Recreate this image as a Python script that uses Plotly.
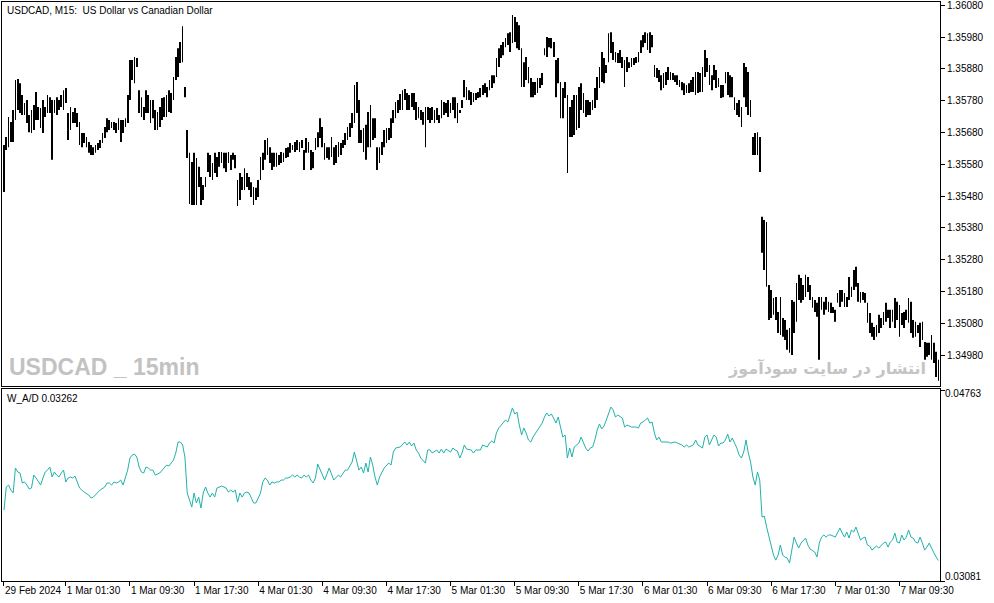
import plotly.graph_objects as go

# USDCAD M15 bars (high / low), oldest first
bar_high = [
    1.35641, 1.35666, 1.35729, 1.35713, 1.35751, 1.35845, 1.35848, 1.35835, 1.35798, 1.35773,
    1.35782, 1.35735, 1.35751, 1.35766, 1.35807, 1.35760, 1.35757, 1.35782, 1.35760, 1.35798,
    1.35791, 1.35782, 1.35782, 1.35791, 1.35782, 1.35798, 1.35813, 1.35820, 1.35741, 1.35760,
    1.35744, 1.35757, 1.35741, 1.35713, 1.35678, 1.35678, 1.35666, 1.35650, 1.35641, 1.35634,
    1.35641, 1.35647, 1.35656, 1.35678, 1.35697, 1.35725, 1.35719, 1.35713, 1.35713, 1.35710,
    1.35725, 1.35719, 1.35719, 1.35725, 1.35798, 1.35908, 1.35908, 1.35917, 1.35914, 1.35813,
    1.35791, 1.35760, 1.35813, 1.35798, 1.35782, 1.35782, 1.35751, 1.35744, 1.35760, 1.35788,
    1.35791, 1.35798, 1.35813, 1.35804, 1.35854, 1.35917, 1.35945, 1.35964, 1.36014, 1.35823,
    1.35688, 1.35616, 1.35587, 1.35616, 1.35600, 1.35572, 1.35540, 1.35515, 1.35540, 1.35616,
    1.35609, 1.35584, 1.35616, 1.35603, 1.35619, 1.35619, 1.35616, 1.35616, 1.35619, 1.35609,
    1.35616, 1.35609, 1.35531, 1.35553, 1.35540, 1.35568, 1.35553, 1.35540, 1.35524, 1.35509,
    1.35506, 1.35531, 1.35603, 1.35616, 1.35656, 1.35663, 1.35634, 1.35616, 1.35616, 1.35616,
    1.35609, 1.35619, 1.35616, 1.35631, 1.35634, 1.35647, 1.35641, 1.35650, 1.35656, 1.35650,
    1.35656, 1.35625, 1.35663, 1.35650, 1.35625, 1.35619, 1.35663, 1.35681, 1.35725, 1.35697,
    1.35647, 1.35634, 1.35634, 1.35666, 1.35634, 1.35641, 1.35650, 1.35647, 1.35656, 1.35678,
    1.35697, 1.35710, 1.35741, 1.35829, 1.35839, 1.35782, 1.35688, 1.35694, 1.35704, 1.35744,
    1.35766, 1.35725, 1.35725, 1.35634, 1.35634, 1.35650, 1.35688, 1.35694, 1.35694, 1.35725,
    1.35751, 1.35776, 1.35782, 1.35801, 1.35813, 1.35817, 1.35804, 1.35798, 1.35804, 1.35804,
    1.35776, 1.35760, 1.35751, 1.35744, 1.35760, 1.35760, 1.35757, 1.35760, 1.35751, 1.35757,
    1.35735, 1.35782, 1.35776, 1.35773, 1.35782, 1.35773, 1.35791, 1.35791, 1.35773, 1.35751,
    1.35782, 1.35845, 1.35823, 1.35813, 1.35807, 1.35804, 1.35804, 1.35807, 1.35820, 1.35829,
    1.35835, 1.35823, 1.35845, 1.35860, 1.35860, 1.35914, 1.35945, 1.35955, 1.35964, 1.35977,
    1.35992, 1.35995, 1.36049, 1.36043, 1.36027, 1.36017, 1.35945, 1.35901, 1.35917, 1.35886,
    1.35851, 1.35839, 1.35839, 1.35851, 1.35851, 1.35867, 1.35945, 1.35980, 1.35977, 1.35977,
    1.35964, 1.35908, 1.35914, 1.35839, 1.35820, 1.35839, 1.35798, 1.35760, 1.35782, 1.35798,
    1.35798, 1.35823, 1.35835, 1.35804, 1.35782, 1.35782, 1.35776, 1.35782, 1.35820, 1.35854,
    1.35886, 1.35933, 1.35914, 1.35892, 1.35992, 1.35995, 1.35964, 1.35933, 1.35930, 1.35939,
    1.35917, 1.35908, 1.35917, 1.35901, 1.35914, 1.35914, 1.35917, 1.35933, 1.35970, 1.35986,
    1.35995, 1.35992, 1.35995, 1.35986, 1.35892, 1.35883, 1.35876, 1.35860, 1.35867, 1.35870,
    1.35886, 1.35870, 1.35867, 1.35860, 1.35860, 1.35845, 1.35839, 1.35835, 1.35829, 1.35835,
    1.35845, 1.35854, 1.35870, 1.35870, 1.35867, 1.35886, 1.35939, 1.35914, 1.35892, 1.35860,
    1.35892, 1.35876, 1.35851, 1.35829, 1.35829, 1.35870, 1.35870, 1.35860, 1.35854, 1.35791,
    1.35773, 1.35782, 1.35760, 1.35898, 1.35886, 1.35870, 1.35782, 1.35666, 1.35678, 1.35681,
    1.35666, 1.35415, 1.35405, 1.35399, 1.35201, 1.35185, 1.35160, 1.35163, 1.35116, 1.35163,
    1.35097, 1.35091, 1.35060, 1.35066, 1.35154, 1.35148, 1.35207, 1.35233, 1.35223, 1.35201,
    1.35233, 1.35226, 1.35201, 1.35163, 1.35154, 1.35145, 1.35163, 1.35163, 1.35148, 1.35163,
    1.35148, 1.35145, 1.35132, 1.35123, 1.35176, 1.35185, 1.35185, 1.35176, 1.35163, 1.35226,
    1.35195, 1.35248, 1.35258, 1.35207, 1.35179, 1.35179, 1.35176, 1.35145, 1.35113, 1.35082,
    1.35069, 1.35075, 1.35107, 1.35097, 1.35116, 1.35145, 1.35123, 1.35123, 1.35123, 1.35160,
    1.35148, 1.35138, 1.35113, 1.35116, 1.35123, 1.35160, 1.35148, 1.35091, 1.35085, 1.35075,
    1.35082, 1.35085, 1.35022, 1.35019, 1.35019, 1.35044, 1.35019, 1.34991, 1.34966,
]

bar_low = [
    1.35493, 1.35625, 1.35634, 1.35650, 1.35650, 1.35719, 1.35751, 1.35741, 1.35735, 1.35735,
    1.35710, 1.35681, 1.35678, 1.35688, 1.35719, 1.35719, 1.35694, 1.35678, 1.35729, 1.35741,
    1.35741, 1.35594, 1.35741, 1.35735, 1.35751, 1.35760, 1.35751, 1.35773, 1.35656, 1.35688,
    1.35710, 1.35710, 1.35697, 1.35641, 1.35634, 1.35647, 1.35634, 1.35616, 1.35609, 1.35609,
    1.35616, 1.35625, 1.35631, 1.35647, 1.35663, 1.35681, 1.35688, 1.35694, 1.35688, 1.35678,
    1.35688, 1.35650, 1.35678, 1.35697, 1.35710, 1.35782, 1.35845, 1.35835, 1.35886, 1.35741,
    1.35729, 1.35719, 1.35741, 1.35741, 1.35710, 1.35725, 1.35688, 1.35688, 1.35697, 1.35719,
    1.35729, 1.35729, 1.35744, 1.35741, 1.35782, 1.35845, 1.35854, 1.35898, 1.35901, 1.35791,
    1.35600, 1.35455, 1.35452, 1.35452, 1.35452, 1.35509, 1.35452, 1.35468, 1.35509, 1.35556,
    1.35540, 1.35531, 1.35553, 1.35540, 1.35572, 1.35584, 1.35568, 1.35556, 1.35584, 1.35562,
    1.35594, 1.35568, 1.35449, 1.35468, 1.35499, 1.35499, 1.35509, 1.35499, 1.35477, 1.35452,
    1.35468, 1.35477, 1.35531, 1.35562, 1.35594, 1.35609, 1.35584, 1.35562, 1.35572, 1.35572,
    1.35578, 1.35584, 1.35587, 1.35600, 1.35603, 1.35616, 1.35625, 1.35619, 1.35625, 1.35619,
    1.35631, 1.35562, 1.35616, 1.35616, 1.35562, 1.35568, 1.35625, 1.35634, 1.35663, 1.35634,
    1.35594, 1.35600, 1.35594, 1.35603, 1.35578, 1.35584, 1.35603, 1.35609, 1.35631, 1.35641,
    1.35656, 1.35666, 1.35694, 1.35710, 1.35741, 1.35647, 1.35647, 1.35619, 1.35594, 1.35634,
    1.35634, 1.35656, 1.35663, 1.35562, 1.35584, 1.35609, 1.35634, 1.35647, 1.35656, 1.35663,
    1.35710, 1.35725, 1.35741, 1.35751, 1.35751, 1.35782, 1.35751, 1.35751, 1.35760, 1.35751,
    1.35719, 1.35725, 1.35719, 1.35704, 1.35634, 1.35719, 1.35710, 1.35719, 1.35710, 1.35719,
    1.35710, 1.35725, 1.35735, 1.35741, 1.35729, 1.35741, 1.35751, 1.35725, 1.35710, 1.35741,
    1.35757, 1.35791, 1.35782, 1.35782, 1.35766, 1.35776, 1.35782, 1.35788, 1.35791, 1.35798,
    1.35804, 1.35791, 1.35813, 1.35820, 1.35835, 1.35854, 1.35886, 1.35914, 1.35923, 1.35948,
    1.35955, 1.35933, 1.35961, 1.35964, 1.35945, 1.35939, 1.35823, 1.35823, 1.35845, 1.35835,
    1.35791, 1.35791, 1.35798, 1.35804, 1.35820, 1.35829, 1.35923, 1.35917, 1.35948, 1.35945,
    1.35917, 1.35791, 1.35835, 1.35725, 1.35725, 1.35788, 1.35553, 1.35666, 1.35666, 1.35672,
    1.35688, 1.35694, 1.35751, 1.35741, 1.35729, 1.35735, 1.35735, 1.35751, 1.35757, 1.35782,
    1.35820, 1.35839, 1.35835, 1.35867, 1.35901, 1.35930, 1.35908, 1.35901, 1.35898, 1.35898,
    1.35883, 1.35823, 1.35870, 1.35883, 1.35886, 1.35892, 1.35898, 1.35901, 1.35930, 1.35948,
    1.35961, 1.35939, 1.35930, 1.35948, 1.35854, 1.35851, 1.35839, 1.35813, 1.35820, 1.35829,
    1.35845, 1.35845, 1.35845, 1.35839, 1.35829, 1.35823, 1.35813, 1.35798, 1.35804, 1.35804,
    1.35807, 1.35807, 1.35798, 1.35804, 1.35807, 1.35807, 1.35854, 1.35870, 1.35829, 1.35813,
    1.35845, 1.35820, 1.35823, 1.35788, 1.35791, 1.35835, 1.35798, 1.35791, 1.35791, 1.35751,
    1.35735, 1.35729, 1.35697, 1.35791, 1.35760, 1.35735, 1.35729, 1.35609, 1.35609, 1.35609,
    1.35556, 1.35302, 1.35248, 1.35195, 1.35091, 1.35097, 1.35107, 1.35091, 1.35050, 1.35044,
    1.35038, 1.35028, 1.34997, 1.34988, 1.34981, 1.35050, 1.35085, 1.35154, 1.35145, 1.35154,
    1.35163, 1.35179, 1.35154, 1.35129, 1.35116, 1.35101, 1.34966, 1.35123, 1.35107, 1.35123,
    1.35116, 1.35113, 1.35113, 1.35085, 1.35145, 1.35132, 1.35148, 1.35132, 1.35132, 1.35154,
    1.35163, 1.35185, 1.35195, 1.35148, 1.35145, 1.35154, 1.35145, 1.35082, 1.35050, 1.35038,
    1.35028, 1.35038, 1.35050, 1.35066, 1.35075, 1.35085, 1.35097, 1.35066, 1.35085, 1.35066,
    1.35091, 1.35038, 1.35075, 1.35066, 1.35091, 1.35082, 1.35050, 1.35035, 1.35038, 1.35050,
    1.35006, 1.35028, 1.34966, 1.34975, 1.34981, 1.34966, 1.34956, 1.34912, 1.34900,
]

# W_A/D indicator: bar number and value
wad_bar = [
    0, 1, 2, 3, 4, 5, 6, 7, 8, 9,
    10, 11, 12, 13, 14, 15, 16, 17, 18, 19,
    20, 21, 22, 23, 24, 25, 26, 27, 28, 29,
    30, 31, 32, 33, 34, 35, 37, 38, 39, 41,
    42, 44, 45, 46, 47, 48, 49, 50, 51, 52,
    53, 54, 55, 56, 57, 58, 59, 60, 61, 62,
    63, 64, 65, 66, 68, 69, 70, 71, 72, 74,
    75, 76, 77, 78, 79, 80, 81, 82, 83, 84,
    85, 86, 87, 88, 89, 90, 91, 92, 93, 94,
    95, 96, 97, 98, 99, 100, 101, 102, 103, 104,
    105, 106, 107, 108, 109, 110, 111, 112, 113, 114,
    115, 116, 117, 118, 119, 120, 121, 122, 123, 124,
    125, 126, 127, 128, 129, 130, 131, 132, 133, 134,
    135, 136, 137, 138, 140, 141, 142, 144, 146, 147,
    149, 150, 152, 153, 154, 155, 156, 157, 158, 159,
    160, 161, 162, 163, 164, 166, 168, 169, 170, 171,
    173, 175, 176, 177, 178, 179, 180, 181, 182, 184,
    185, 186, 187, 189, 190, 191, 192, 193, 195, 196,
    197, 198, 199, 200, 201, 202, 204, 205, 206, 208,
    209, 211, 212, 213, 214, 215, 216, 218, 219, 220,
    221, 222, 223, 224, 225, 226, 227, 228, 229, 230,
    231, 233, 235, 236, 237, 238, 239, 240, 241, 242,
    243, 244, 245, 246, 247, 248, 249, 250, 251, 252,
    253, 254, 255, 256, 257, 258, 259, 260, 261, 262,
    263, 264, 265, 266, 267, 268, 270, 271, 272, 274,
    276, 277, 278, 279, 281, 282, 283, 284, 285, 286,
    287, 289, 290, 291, 293, 294, 296, 297, 298, 299,
    301, 302, 303, 305, 306, 307, 308, 309, 310, 311,
    312, 313, 314, 315, 316, 317, 318, 319, 320, 321,
    322, 323, 324, 325, 326, 327, 328, 329, 330, 331,
    332, 333, 334, 335, 336, 337, 338, 339, 340, 341,
    342, 343, 344, 345, 346, 347, 348, 350, 351, 352,
    354, 355, 356, 357, 358, 359, 360, 361, 363, 364,
    365, 366, 367, 368, 369, 370, 371, 372, 373, 374,
    375, 376, 377, 378, 379, 380, 381, 382, 383, 384,
    385, 386, 387, 388, 389, 390, 391, 392, 393, 394,
    395, 396, 397, 398, 399, 400, 401, 402, 403, 404,
    405, 406, 407, 408,
]

wad = [
    0.03706, 0.03909, 0.03926, 0.03882, 0.03856, 0.04076, 0.04041, 0.04032, 0.03944, 0.03953,
    0.03926, 0.03891, 0.03900, 0.04014, 0.03988, 0.03953, 0.03926, 0.03988, 0.04041, 0.04058,
    0.04085, 0.03997, 0.04041, 0.04014, 0.03997, 0.04032, 0.04058, 0.03953, 0.03988, 0.03997,
    0.03988, 0.04005, 0.03953, 0.03900, 0.03882, 0.03864, 0.03838, 0.03812, 0.03820, 0.03856,
    0.03882, 0.03909, 0.03944, 0.03944, 0.03926, 0.03953, 0.03944, 0.03953, 0.03970, 0.03926,
    0.03988, 0.04058, 0.04164, 0.04190, 0.04199, 0.04173, 0.04085, 0.04041, 0.04032, 0.04085,
    0.04076, 0.04058, 0.04058, 0.04014, 0.04032, 0.04058, 0.04085, 0.04102, 0.04094, 0.04146,
    0.04208, 0.04305, 0.04305, 0.04279, 0.04173, 0.03856, 0.03794, 0.03732, 0.03856, 0.03768,
    0.03820, 0.03724, 0.03856, 0.03909, 0.03856, 0.03820, 0.03856, 0.03820, 0.03900, 0.03909,
    0.03917, 0.03909, 0.03900, 0.03864, 0.03882, 0.03864, 0.03882, 0.03776, 0.03856, 0.03820,
    0.03856, 0.03864, 0.03856, 0.03812, 0.03768, 0.03768, 0.03812, 0.03856, 0.03953, 0.03988,
    0.03970, 0.03926, 0.03953, 0.03944, 0.03953, 0.03953, 0.03970, 0.03970, 0.03988, 0.03988,
    0.03997, 0.04014, 0.03997, 0.04014, 0.03997, 0.03988, 0.04014, 0.03997, 0.04014, 0.03970,
    0.03944, 0.03988, 0.04111, 0.04058, 0.03970, 0.04023, 0.04076, 0.03970, 0.04014, 0.03997,
    0.04058, 0.04058, 0.04129, 0.04217, 0.04146, 0.04058, 0.04085, 0.04032, 0.04120, 0.04041,
    0.04173, 0.04102, 0.03997, 0.03926, 0.03997, 0.04076, 0.04120, 0.04102, 0.04217, 0.04252,
    0.04261, 0.04305, 0.04279, 0.04305, 0.04270, 0.04296, 0.04235, 0.04208, 0.04164, 0.04120,
    0.04235, 0.04235, 0.04208, 0.04235, 0.04208, 0.04243, 0.04208, 0.04243, 0.04217, 0.04252,
    0.04235, 0.04226, 0.04164, 0.04208, 0.04279, 0.04243, 0.04235, 0.04208, 0.04235, 0.04235,
    0.04279, 0.04261, 0.04296, 0.04314, 0.04296, 0.04384, 0.04428, 0.04472, 0.04499, 0.04481,
    0.04543, 0.04605, 0.04552, 0.04569, 0.04455, 0.04367, 0.04428, 0.04384, 0.04323, 0.04305,
    0.04349, 0.04411, 0.04472, 0.04525, 0.04561, 0.04534, 0.04552, 0.04516, 0.04472, 0.04525,
    0.04437, 0.04349, 0.04367, 0.04164, 0.04252, 0.04173, 0.04261, 0.04279, 0.04296, 0.04349,
    0.04305, 0.04252, 0.04226, 0.04252, 0.04261, 0.04323, 0.04411, 0.04464, 0.04420, 0.04446,
    0.04499, 0.04561, 0.04613, 0.04587, 0.04525, 0.04543, 0.04516, 0.04437, 0.04455, 0.04437,
    0.04437, 0.04428, 0.04472, 0.04481, 0.04516, 0.04472, 0.04481, 0.04384, 0.04323, 0.04349,
    0.04305, 0.04305, 0.04305, 0.04296, 0.04305, 0.04296, 0.04279, 0.04261, 0.04279, 0.04261,
    0.04279, 0.04323, 0.04279, 0.04252, 0.04349, 0.04367, 0.04279, 0.04323, 0.04367, 0.04349,
    0.04270, 0.04296, 0.04296, 0.04323, 0.04375, 0.04305, 0.04340, 0.04296, 0.04252, 0.04190,
    0.04164, 0.04217, 0.04323, 0.04208, 0.04129, 0.03997, 0.03926, 0.04041, 0.03970, 0.03644,
    0.03653, 0.03556, 0.03468, 0.03398, 0.03309, 0.03265, 0.03309, 0.03398, 0.03309, 0.03292,
    0.03283, 0.03239, 0.03353, 0.03468, 0.03415, 0.03371, 0.03415, 0.03459, 0.03398, 0.03362,
    0.03336, 0.03292, 0.03415, 0.03468, 0.03486, 0.03468, 0.03486, 0.03486, 0.03468, 0.03512,
    0.03547, 0.03503, 0.03468, 0.03512, 0.03459, 0.03530, 0.03512, 0.03556, 0.03503, 0.03442,
    0.03459, 0.03468, 0.03398, 0.03389, 0.03353, 0.03371, 0.03389, 0.03371, 0.03398, 0.03415,
    0.03424, 0.03380, 0.03424, 0.03442, 0.03503, 0.03424, 0.03415, 0.03486, 0.03442, 0.03468,
    0.03530, 0.03468, 0.03459, 0.03424, 0.03415, 0.03468, 0.03415, 0.03353, 0.03380, 0.03415,
    0.03371, 0.03327, 0.03292, 0.03262,
]

price_ticks = [1.34980, 1.35080, 1.35180, 1.35280, 1.35380, 1.35480,
               1.35580, 1.35680, 1.35780, 1.35880, 1.35980, 1.36080]
wad_min = 0.03081
wad_max = 0.04763

time_labels = ["29 Feb 2024", "1 Mar 01:30", "1 Mar 09:30", "1 Mar 17:30",
               "4 Mar 01:30", "4 Mar 09:30", "4 Mar 17:30", "5 Mar 01:30",
               "5 Mar 09:30", "5 Mar 17:30", "6 Mar 01:30", "6 Mar 09:30",
               "6 Mar 17:30", "7 Mar 01:30", "7 Mar 09:30"]
time_label_bar = [0, 27, 55, 83, 111, 139, 167, 195, 223, 251, 279, 307, 335, 363, 391]

FONT = "Liberation Sans"

bar_idx = list(range(len(bar_high)))
bar_len = [h - l for h, l in zip(bar_high, bar_low)]

fig = go.Figure()

fig.add_trace(go.Bar(
    x=bar_idx, y=bar_len, base=bar_low, width=0.32,
    marker=dict(color="black", line=dict(width=0)),
    xaxis="x2", yaxis="y", hoverinfo="skip",
))

fig.add_trace(go.Scatter(
    x=wad_bar, y=wad, mode="lines",
    line=dict(color="#20b2aa", width=1),
    xaxis="x", yaxis="y2", hoverinfo="skip",
))

frame = dict(showline=True, linecolor="black", linewidth=1, mirror=True,
             showgrid=False, zeroline=False, automargin=False)

fig.update_layout(
    width=994, height=603,
    margin=dict(l=2, r=54, t=2, b=22),
    paper_bgcolor="white", plot_bgcolor="white",
    showlegend=False,
    font=dict(family=FONT, size=10, color="black"),
    xaxis=dict(
        domain=[0, 1], anchor="y2", range=[-0.87, 408.7],
        tickvals=time_label_bar, ticktext=time_labels, tickangle=0,
        ticks="outside", ticklen=4, tickcolor="black",
        ticklabelposition="outside right",
        **frame,
    ),
    xaxis2=dict(domain=[0, 1], anchor="y", matches="x",
                showticklabels=False, ticks="", **frame),
    yaxis=dict(
        domain=[0.336, 1], anchor="x2", side="right",
        range=[1.34882, 1.36090],
        tickvals=price_ticks, ticktext=[f"{p:.5f}" for p in price_ticks],
        ticks="outside", ticklen=4, tickcolor="black",
        ticklabeloverflow="allow",
        **frame,
    ),
    yaxis2=dict(
        domain=[0, 0.3316], anchor="x", side="right",
        range=[wad_min, 0.04772],
        tickvals=[wad_min, wad_max], showticklabels=False,
        ticks="outside", ticklen=4, tickcolor="black",
        **frame,
    ),
)

notes = [
    dict(text="USDCAD, M15:\u00a0 US Dollar vs Canadian Dollar", x=0, y=1,
         xanchor="left", yanchor="top", xshift=3, yshift=-1,
         font=dict(family=FONT, size=10, color="black")),
    dict(text="W_A/D 0.03262", x=0, y=0.3316,
         xanchor="left", yanchor="top", xshift=3, yshift=-2,
         font=dict(family=FONT, size=10, color="black")),
    dict(text="<b>USDCAD _ 15min</b>", x=0, y=0.3696,
         xanchor="left", yanchor="middle", xshift=5,
         font=dict(family=FONT, size=23, color="#c2c2c2")),
    dict(text="<b>انتشار در سایت سودآموز</b>", x=0.987, y=0.368,
         xanchor="right", yanchor="middle",
         font=dict(family="DejaVu Sans", size=16, color="#c4c4c4")),
    dict(text="0.04763", x=1, y=0.323, xanchor="left", yanchor="middle", xshift=3,
         font=dict(family=FONT, size=10, color="black")),
    dict(text="0.03081", x=1, y=0.0086, xanchor="left", yanchor="middle", xshift=3,
         font=dict(family=FONT, size=10, color="black")),
]
for n in notes:
    fig.add_annotation(xref="paper", yref="paper", showarrow=False, **n)

# the page body has a default 8px margin; drop it so the chart sits at 0,0
fig.write_html("out.html", config={"displayModeBar": False},
               post_script="document.body.style.margin='0';")
